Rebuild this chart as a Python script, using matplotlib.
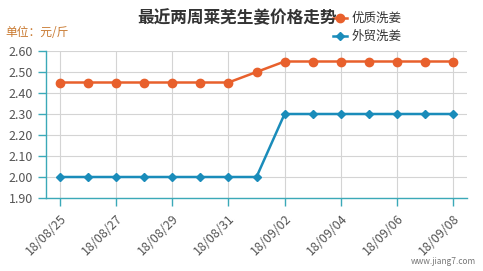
import matplotlib
matplotlib.use("Agg")
import matplotlib.pyplot as plt

plt.rcParams["font.family"] = ["Noto Sans CJK SC", "DejaVu Sans"]

# ----------------------------
# Data
# ----------------------------
DATES = ["18/08/25", "18/08/26", "18/08/27", "18/08/28", "18/08/29",
         "18/08/30", "18/08/31", "18/09/01", "18/09/02", "18/09/03",
         "18/09/04", "18/09/05", "18/09/06", "18/09/07", "18/09/08"]
PREMIUM = [2.45, 2.45, 2.45, 2.45, 2.45, 2.45, 2.45, 2.50,
           2.55, 2.55, 2.55, 2.55, 2.55, 2.55, 2.55]
EXPORT = [2.00, 2.00, 2.00, 2.00, 2.00, 2.00, 2.00, 2.00,
          2.30, 2.30, 2.30, 2.30, 2.30, 2.30, 2.30]
Y_TICKS = [1.90, 2.00, 2.10, 2.20, 2.30, 2.40, 2.50, 2.60]

ORANGE = "#e8602c"
BLUE = "#1a8cba"
AXIS = "#3ba9b8"
GRID = "#d4d4d4"
TXT = "#555555"

# ----------------------------
# Plot
# ----------------------------
fig = plt.figure(figsize=(4.83, 2.71), dpi=100)
ax = fig.add_axes([46 / 483, 1 - 198 / 271, 421 / 483, 147 / 271])

x = list(range(len(DATES)))
ax.plot(x, PREMIUM, "-o", color=ORANGE, lw=1.8, ms=6, zorder=3)
ax.plot(x, EXPORT, "-D", color=BLUE, lw=1.8, ms=4.5, zorder=3)

ax.set_xlim(-0.5, len(DATES) - 0.5)
ax.set_ylim(1.90, 2.60)
ax.set_yticks(Y_TICKS)
ax.set_yticklabels([f"{v:.2f}" for v in Y_TICKS])
ax.set_xticks(x[::2])
ax.set_xticklabels(DATES[::2], rotation=45, ha="right", rotation_mode="anchor")

ax.grid(True, color=GRID, lw=0.8)
ax.set_axisbelow(True)
for s in ("top", "right"):
    ax.spines[s].set_visible(False)
for s in ("left", "bottom"):
    ax.spines[s].set_color(AXIS)
    ax.spines[s].set_linewidth(1.0)
ax.tick_params(colors=AXIS, labelcolor=TXT, labelsize=9, length=6, width=1.0)
ax.tick_params(axis="x", pad=4)

fig.text(237 / 483, 1 - 18 / 271, "最近两周莱芜生姜价格走势", ha="center", va="center",
         fontsize=12, fontweight="bold", color="#333333")
fig.text(5 / 483, 1 - 32 / 271, "单位：元/斤", ha="left", va="center",
         fontsize=8.5, color="#c8782e")

# legend
for i, (lab, col, mk, ms) in enumerate([("优质洗姜", ORANGE, "o", 6), ("外贸洗姜", BLUE, "D", 4.5)]):
    yy = 1 - (18 + 18 * i) / 271
    fig.lines.append(plt.Line2D([333 / 483, 347 / 483], [yy, yy], color=col, lw=1.8,
                                transform=fig.transFigure))
    fig.lines.append(plt.Line2D([340 / 483], [yy], color=col, marker=mk, ms=ms,
                                transform=fig.transFigure))
    fig.text(352 / 483, yy, lab, ha="left", va="center", fontsize=9, color="#333333")

fig.text(476 / 483, 1 - 262 / 271, "www.jiang7.com", ha="right", va="center",
         fontsize=6, color="#777777")

fig.savefig("out.png", dpi=100)
